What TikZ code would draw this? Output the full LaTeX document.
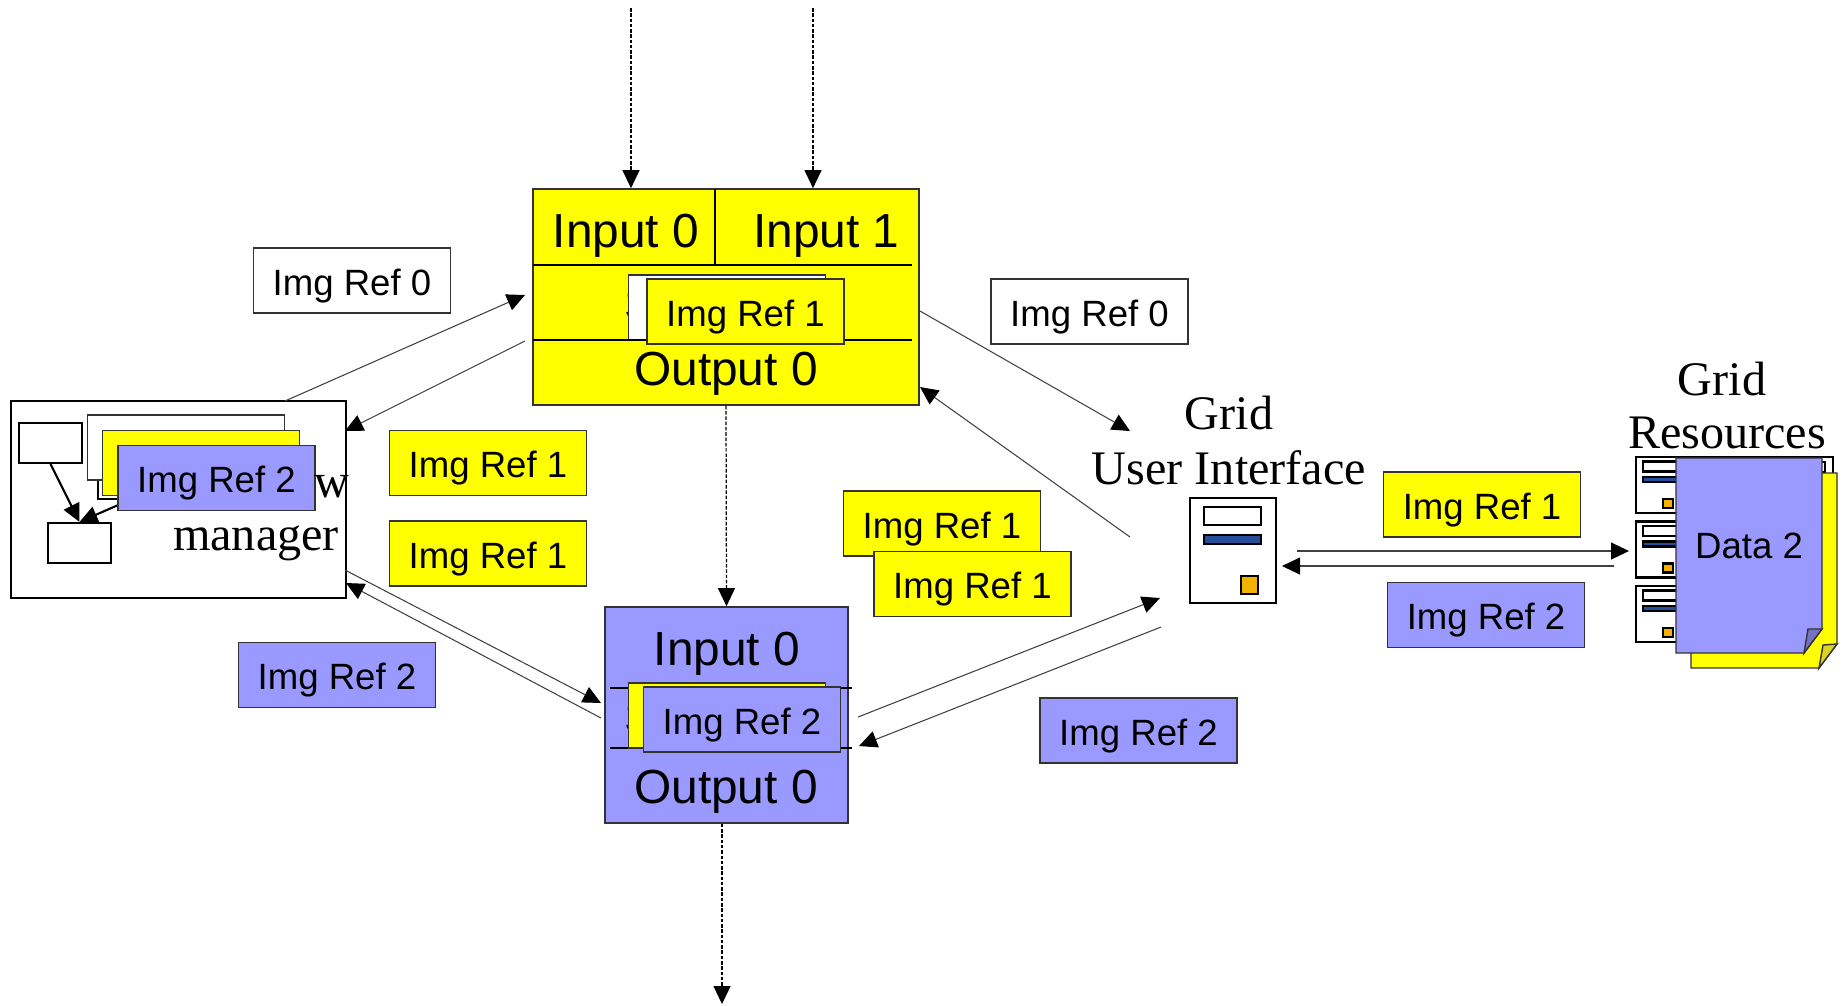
\documentclass[tikz,border=0pt]{standalone}
\usepackage{fontspec}
\usepackage{xcolor}
\setmainfont{Liberation Serif}
\setsansfont{Liberation Sans}
\usetikzlibrary{arrows.meta}
\definecolor{refyellow}{HTML}{FFFF00}
\definecolor{refblue}{HTML}{9999FF}
\definecolor{barblue}{HTML}{254E9A}
\definecolor{lamp}{HTML}{F2B200}
\tikzset{
  imgcard/.style={rectangle,draw=black!80,line width=.45pt,inner sep=0pt,minimum width=1.97cm,minimum height=.65cm,text height=.29cm,text depth=0pt,font=\sffamily\fontsize{10.4}{12}\selectfont},
  bigbox/.style={rectangle,draw=black!80,line width=.45pt,inner sep=0pt},
  bigtext/.style={anchor=base,inner sep=0pt,font=\sffamily\fontsize{13.6}{15}\selectfont},
  sertext/.style={anchor=base,inner sep=0pt,font=\rmfamily\fontsize{13.7}{15}\selectfont},
  minibox/.style={rectangle,draw,line width=.6pt,fill=white,inner sep=0pt,minimum width=.63cm,minimum height=.40cm},
  iconbox/.style={rectangle,draw,line width=.6pt,inner sep=0pt},
  flow/.style={draw=black!75,line width=.3pt,->},
  dataflow/.style={draw=black,line width=.35pt,dash pattern=on 1pt off .5pt,->},
  >={Triangle[length=.18cm,width=.17cm,color=black]}
}
\begin{document}
\begin{tikzpicture}[x=.01cm,y=-.01cm]
\useasboundingbox (0,0) rectangle (1846,1005);
% workflow manager
\path
(178.5,499.5) node(wfbox) [rectangle,draw,line width=.7pt,inner sep=0pt,minimum width=3.35cm,minimum height=1.97cm] {}
(50.5,443) node(boxa) [minibox] {}
(79.5,543) node(boxb) [minibox] {}
(129.5,479) node(boxc) [minibox] {};
\draw[line width=.6pt,->] (boxa.south) -- (boxb.north);
\draw[line width=.6pt,->] (boxc.south) -- (boxb.north);
\path
(186,447.5) node(wfwhite) [imgcard,fill=white] {}
(201,463) node(wfyellow) [imgcard,fill=refyellow] {}
(216.5,478) node(wfblue) [imgcard,fill=refblue] {Img Ref 2}
(331.5,497) node(wfw) [sertext] {w}
(256,550) node(wfname) [sertext] {manager};
% yellow service
\path
(726,297) node(ybox) [bigbox,fill=refyellow,minimum width=3.86cm,minimum height=2.16cm] {}
(626,247) node(yin0) [bigtext] {Input 0}
(826.5,247) node(yin1) [bigtext] {Input 1}
(726,385) node(yout) [bigtext] {Output 0}
(640,320) node(ys) [bigtext] {S}
(727,307.5) node(ywhite) [imgcard,fill=white] {}
(715,189) coordinate(ydiv)
(533,265) coordinate(yla) (912,265) coordinate(ylb)
(533,340) coordinate(ylc) (912,340) coordinate(yld);
\draw[line width=.4pt] (ydiv) -- (ydiv |- yla);
\draw[line width=.4pt] (yla) -- (ylb);
\draw[line width=.4pt] (ylc) -- (yld);
\path (745.5,311.5) node(ycard) [imgcard,fill=refyellow] {Img Ref 1};
% blue service
\path
(726.5,715) node(bbox) [bigbox,fill=refblue,minimum width=2.43cm,minimum height=2.16cm] {}
(727,665) node(bin0) [bigtext] {Input 0}
(726,803) node(bout) [bigtext] {Output 0}
(640,733) node(bs) [bigtext] {S}
(610,688) coordinate(bla) (852,688) coordinate(blb)
(610,748) coordinate(blc) (852,748) coordinate(bld);
\draw[line width=.4pt] (bla) -- (blb);
\draw[line width=.4pt] (blc) -- (bld);
\path
(727,715.5) node(byellow) [imgcard,fill=refyellow] {}
(742,719.5) node(bcard) [imgcard,fill=refblue] {Img Ref 2};
% loose references
\path
(352,280.5) node(ref0a) [imgcard,fill=white] {Img Ref 0}
(1089.5,311.5) node(ref0b) [imgcard,fill=white] {Img Ref 0}
(488,463) node(ref1a) [imgcard,fill=refyellow] {Img Ref 1}
(488,553.5) node(ref1b) [imgcard,fill=refyellow] {Img Ref 1}
(337,675) node(ref2a) [imgcard,fill=refblue] {Img Ref 2}
(942,523.5) node(ref1c) [imgcard,fill=refyellow] {Img Ref 1}
(972.5,584) node(ref1d) [imgcard,fill=refyellow] {Img Ref 1}
(1138.5,730.5) node(ref2b) [imgcard,fill=refblue] {Img Ref 2}
(1482,504.5) node(ref1e) [imgcard,fill=refyellow] {Img Ref 1}
(1486,615) node(ref2c) [imgcard,fill=refblue] {Img Ref 2};
% grid user interface
\path
(1229,429) node(uigrid) [sertext] {Grid}
(1229,484) node(uiname) [sertext] {User Interface}
(1233,550.5) node(uibox) [iconbox,fill=white,minimum width=.86cm,minimum height=1.05cm] {}
(1232.5,516) node(uiscreen) [iconbox,fill=white,minimum width=.57cm,minimum height=.18cm] {}
(1232.5,539.5) node(uibar) [iconbox,fill=barblue,minimum width=.57cm,minimum height=.09cm] {}
(1249.5,585) node(uilamp) [iconbox,fill=lamp,minimum width=.17cm,minimum height=.18cm] {};
% grid resources
\path
(1722,395) node(resgrid) [sertext] {Grid}
(1727,448) node(resname) [sertext] {Resources};
\foreach \sx in {1790,1743}{
\path (\sx,485) node[iconbox,fill=white,minimum width=.86cm,minimum height=.56cm] {};
}
\path (1796.5,467) node(resscreen) [iconbox,fill=white,minimum width=.57cm,minimum height=.10cm] {};
\foreach \sy/\sname in {485/sa,549.5/sb,614/sc}{
\path (1679,\sy) node(\sname) [iconbox,fill=white,minimum width=.86cm,minimum height=.56cm] {}
(1671.5,\sy-18.5) node[iconbox,fill=white,minimum width=.57cm,minimum height=.10cm] {}
(1671.5,\sy-5.5) node[iconbox,fill=barblue,minimum width=.57cm,minimum height=.05cm] {}
(1668,\sy+18.5) node[iconbox,fill=lamp,minimum width=.10cm,minimum height=.09cm] {};
}
\draw[line width=.4pt,draw=black!80,fill=refyellow] (1691,473) -- (1837,473) -- (1837,644) -- (1819,668) -- (1691,668) -- cycle;
\draw[line width=.4pt,draw=black!80,fill=yellow!85!black] (1819,668) -- (1823,645) -- (1837,644) -- cycle;
\draw[line width=.4pt,draw=black!80,fill=refblue] (1676,458) -- (1822,458) -- (1822,629) -- (1804,653) -- (1676,653) -- cycle;
\draw[line width=.4pt,draw=black!80,fill=refblue!75!black] (1804,653) -- (1808,629) -- (1822,629) -- cycle;
\path (1749,558) node(docname) [bigtext,font=\sffamily\fontsize{10.4}{12}\selectfont] {Data 2};
% connectors
\path
(631,8) coordinate(in0top) (813,8) coordinate(in1top) (722,1004) coordinate(outend)
(285,401) coordinate(wfup) (525,295) coordinate(yleftin)
(525,341) coordinate(yleftout) (345,431) coordinate(wfin)
(920,311) coordinate(yrightout) (1130,431) coordinate(uiin)
(1130,537) coordinate(uiout) (920,387) coordinate(yrightin)
(345,570) coordinate(wfdown) (601,703) coordinate(bleftin)
(601,718) coordinate(bleftout) (346,583) coordinate(wfback)
(858,717) coordinate(brightout) (1160,598) coordinate(uibin)
(1161,627) coordinate(uibout) (859,746) coordinate(brightin)
(1297,551) coordinate(uires) (1629,551) coordinate(resin)
(1614,566) coordinate(resout) (1282,566) coordinate(uiresin);
\draw[dataflow] (in0top) -- (in0top |- ybox.north);
\draw[dataflow] (in1top) -- (in1top |- ybox.north);
\draw[dataflow] (ybox.south) -- (bbox.north);
\draw[dataflow] (outend |- bbox.south) -- (outend);
\draw[flow] (wfup) -- (yleftin);
\draw[flow] (yleftout) -- (wfin);
\draw[flow] (yrightout) -- (uiin);
\draw[flow] (uiout) -- (yrightin);
\draw[flow] (wfdown) -- (bleftin);
\draw[flow] (bleftout) -- (wfback);
\draw[flow] (brightout) -- (uibin);
\draw[flow] (uibout) -- (brightin);
\draw[flow] (uires) -- (resin);
\draw[flow] (resout) -- (uiresin);
\end{tikzpicture}
\end{document}
